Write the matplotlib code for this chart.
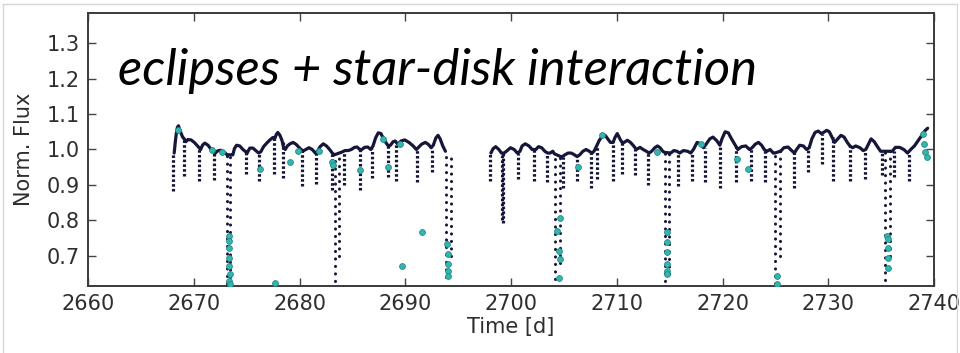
import numpy as np
import matplotlib
matplotlib.use("Agg")
import matplotlib.pyplot as plt
from matplotlib.lines import Line2D

# --- light curve: continuum (spot-modulated arches) -------------------------
arc_t = [
    2668.15, 2668.25, 2668.35, 2668.45, 2668.55, 2668.65, 2668.8, 2668.95, 2669.1,
    2669.25, 2669.45, 2669.75, 2670.05, 2670.3, 2670.5, 2670.65, 2670.85, 2671.05,
    2671.35, 2671.65, 2671.9, 2672.05, 2672.25, 2672.55, 2672.85, 2673.05, 2673.15,
    2673.55, 2673.7, 2673.85, 2674.05, 2674.35, 2674.65, 2674.9, 2675.05, 2675.3,
    2675.6, 2675.9, 2676.15, 2676.35, 2676.6, 2676.9, 2677.2, 2677.5, 2677.65,
    2677.8, 2677.95, 2678.15, 2678.35, 2678.5, 2678.65, 2678.85, 2679.1, 2679.4,
    2679.7, 2679.95, 2680.15, 2680.35, 2680.6, 2680.9, 2681.2, 2681.5, 2681.7,
    2681.95, 2682.25, 2682.55, 2682.85, 2683.1, 2683.3, 2683.75, 2683.95, 2684.3,
    2684.6, 2684.9, 2685.2, 2685.45, 2685.7, 2685.9, 2686.15, 2686.45, 2686.75,
    2686.95, 2687.2, 2687.45, 2687.7, 2687.95, 2688.2, 2688.4, 2688.6, 2688.85,
    2689.05, 2689.3, 2689.6, 2689.95, 2690.35, 2690.75, 2691.05, 2691.25, 2691.55,
    2691.9, 2692.2, 2692.45, 2692.65, 2692.9, 2693.1, 2693.3, 2693.55, 2693.8,
    2698.1, 2698.3, 2698.55, 2698.85, 2699.1, 2699.35, 2699.65, 2699.95, 2700.3,
    2700.6, 2700.85, 2701.05, 2701.35, 2701.7, 2702.0, 2702.35, 2702.6, 2702.9,
    2703.2, 2703.45, 2703.7, 2703.95, 2704.1, 2704.7, 2704.85, 2705.1, 2705.4,
    2705.7, 2706.0, 2706.25, 2706.5, 2706.8, 2707.1, 2707.4, 2707.65, 2707.85,
    2708.1, 2708.35, 2708.6, 2708.9, 2709.15, 2709.4, 2709.65, 2709.85, 2710.05,
    2710.3, 2710.5, 2710.7, 2711.0, 2711.3, 2711.6, 2711.85, 2712.2, 2712.5,
    2712.8, 2713.05, 2713.3, 2713.6, 2713.85, 2714.1, 2714.35, 2714.5, 2715.05,
    2715.1, 2715.4, 2715.7, 2715.95, 2716.3, 2716.7, 2717.0, 2717.25, 2717.6,
    2717.95, 2718.2, 2718.45, 2718.8, 2719.1, 2719.45, 2719.75, 2719.95, 2720.25,
    2720.55, 2720.85, 2721.15, 2721.45, 2721.8, 2722.2, 2722.55, 2722.8, 2723.1,
    2723.4, 2723.7, 2723.95, 2724.2, 2724.5, 2724.8, 2724.95, 2725.45, 2725.5,
    2725.8, 2726.2, 2726.5, 2726.8, 2727.0, 2727.3, 2727.65, 2727.95, 2728.2,
    2728.45, 2728.75, 2729.05, 2729.35, 2729.55, 2729.85, 2730.1, 2730.35, 2730.6,
    2730.9, 2731.2, 2731.5, 2731.8, 2732.05, 2732.3, 2732.6, 2733.0, 2733.3,
    2733.55, 2733.8, 2734.05, 2734.35, 2734.65, 2734.95, 2735.2, 2735.35, 2735.85,
    2736.05, 2736.35, 2736.75, 2737.15, 2737.5, 2737.8, 2738.15, 2738.5, 2738.85,
    2739.15, 2739.4,
]
arc_f = [
    0.990, 1.020, 1.045, 1.062, 1.067, 1.058, 1.046, 1.035, 1.030,
    1.022, 1.028, 1.027, 1.020, 1.012, 1.005, 1.000, 1.013, 1.018,
    1.012, 1.000, 0.994, 0.990, 0.996, 0.998, 0.993, 0.988, 0.985,
    0.985, 0.985, 1.003, 1.012, 1.010, 1.000, 0.994, 0.990, 1.004,
    1.004, 0.996, 0.990, 0.994, 1.008, 1.018, 1.027, 1.034, 1.030,
    1.042, 1.048, 1.040, 1.025, 1.005, 1.000, 1.010, 1.016, 1.020,
    1.014, 1.006, 1.000, 0.996, 1.000, 1.005, 1.000, 0.990, 0.995,
    1.008, 1.016, 1.010, 1.000, 0.990, 0.985, 0.990, 0.992, 0.997,
    0.997, 1.000, 1.006, 1.007, 1.000, 1.000, 1.006, 1.007, 1.000,
    1.010, 1.033, 1.047, 1.045, 1.030, 1.018, 1.010, 1.012, 1.022,
    1.024, 1.015, 1.024, 1.027, 1.020, 1.010, 1.000, 1.006, 1.015,
    1.020, 1.014, 1.005, 1.012, 1.033, 1.040, 1.030, 1.010, 0.995,
    0.990, 1.002, 1.008, 1.000, 0.990, 0.990, 0.997, 1.005, 1.000,
    0.990, 0.995, 1.010, 1.016, 1.010, 1.000, 1.000, 1.008, 1.005,
    0.995, 0.990, 0.990, 0.995, 0.988, 0.980, 0.980, 0.985, 0.990,
    0.990, 0.985, 0.980, 0.985, 0.995, 1.000, 0.995, 0.990, 0.995,
    1.010, 1.026, 1.036, 1.040, 1.030, 1.020, 1.020, 1.035, 1.045,
    1.030, 1.020, 1.020, 1.026, 1.020, 1.010, 1.000, 1.006, 1.000,
    0.995, 0.990, 0.995, 1.005, 1.010, 1.005, 0.995, 0.992, 0.990,
    0.990, 0.997, 0.995, 0.990, 0.997, 0.995, 0.990, 1.000, 1.020,
    1.016, 1.005, 1.015, 1.030, 1.035, 1.025, 1.012, 1.030, 1.050,
    1.047, 1.030, 1.015, 1.000, 1.008, 1.010, 1.000, 1.005, 1.015,
    1.020, 1.012, 1.000, 0.995, 1.000, 0.990, 0.990, 0.995, 0.995,
    1.005, 1.007, 0.998, 0.990, 1.000, 1.012, 1.010, 1.000, 1.005,
    1.030, 1.048, 1.052, 1.045, 1.048, 1.054, 1.050, 1.035, 1.020,
    1.030, 1.040, 1.035, 1.020, 1.010, 1.005, 1.010, 1.005, 0.997,
    1.000, 1.015, 1.030, 1.022, 1.008, 0.995, 0.995, 0.995, 0.995,
    0.995, 1.006, 1.006, 1.000, 0.990, 1.000, 1.010, 1.025, 1.040,
    1.053, 1.060,
]

# --- short dips (star-disk interaction), one column per dip -----------------
dip_t = [
    2668.05, 2669.1, 2670.5, 2671.9, 2674.9, 2676.2, 2677.6, 2678.45, 2680.2,
    2681.6, 2683.05, 2684.2, 2685.75, 2686.85, 2688.35, 2689.1, 2691.1, 2692.5,
    2698.02, 2699.15, 2699.25, 2700.7, 2702.2, 2703.4, 2704.9, 2706.2, 2707.6,
    2708.1, 2709.6, 2710.5, 2711.75, 2713.0, 2715.8, 2717.1, 2718.3, 2719.8,
    2721.3, 2722.7, 2724.0, 2726.8, 2728.05, 2729.4, 2730.45, 2732.1, 2733.45,
    2735.1, 2736.2, 2737.6,
]
dip_top = [
    0.990, 1.030, 1.005, 0.994, 0.994, 0.990, 1.030, 1.020, 1.000,
    0.990, 0.990, 0.996, 1.000, 1.000, 1.010, 1.020, 1.000, 1.005,
    0.990, 0.990, 0.990, 0.990, 1.000, 0.990, 0.980, 0.980, 0.990,
    1.010, 1.020, 1.020, 1.000, 0.990, 0.995, 0.990, 1.005, 1.012,
    1.015, 1.000, 1.000, 0.990, 1.000, 1.045, 1.035, 1.010, 0.997,
    0.995, 0.995, 0.990,
]
dip_bot = [
    0.884, 0.926, 0.912, 0.915, 0.930, 0.912, 0.930, 0.920, 0.898,
    0.903, 0.885, 0.900, 0.885, 0.920, 0.922, 0.912, 0.908, 0.936,
    0.910, 0.800, 0.794, 0.917, 0.910, 0.908, 0.890, 0.912, 0.890,
    0.917, 0.912, 0.930, 0.927, 0.900, 0.898, 0.912, 0.908, 0.890,
    0.908, 0.912, 0.908, 0.890, 0.936, 0.960, 0.912, 0.912, 0.917,
    0.927, 0.922, 0.912,
]

# --- eclipses: ingress and egress columns -----------------------------------
ecl_t = [2673.15, 2673.45, 2683.35, 2683.7, 2693.9, 2694.35, 2704.2, 2704.6,
         2714.6, 2714.95, 2725.0, 2725.4, 2735.4, 2735.8]
ecl_top = [0.985, 0.985, 0.985, 0.990, 0.995, 0.975, 0.988, 0.980,
           0.992, 0.990, 0.995, 0.995, 0.995, 0.995]
ecl_bot = [0.600, 0.640, 0.630, 0.700, 0.640, 0.700, 0.635, 0.680,
           0.630, 0.650, 0.600, 0.700, 0.632, 0.700]

# --- flagged points (cyan) --------------------------------------------------
flag_t = [
    2668.55, 2671.7, 2672.64, 2673.33, 2673.36, 2673.38, 2673.36, 2673.38, 2673.4,
    2673.38, 2673.4, 2676.27, 2677.68, 2679.1, 2679.9, 2681.8, 2683.1, 2683.15,
    2685.7, 2687.9, 2688.4, 2689.5, 2689.66, 2691.55, 2693.98, 2694.0, 2694.02,
    2694.02, 2694.0, 2704.6, 2704.32, 2704.58, 2704.6, 2704.55, 2706.36, 2708.57,
    2713.77, 2714.72, 2714.74, 2714.72, 2714.74, 2714.72, 2714.74, 2718.0,
    2721.33, 2722.44, 2725.12, 2725.15, 2735.6, 2735.62, 2735.62, 2735.64,
    2735.64, 2738.99, 2739.05, 2739.15, 2739.3,
]
flag_f = [
    1.054, 0.999, 0.993, 0.756, 0.742, 0.722, 0.694, 0.671, 0.649,
    0.629, 0.620, 0.946, 0.624, 0.964, 0.997, 0.997, 0.965, 0.955,
    0.941, 1.030, 0.950, 1.016, 0.670, 0.766, 0.733, 0.705, 0.676,
    0.657, 0.643, 0.808, 0.771, 0.714, 0.690, 0.638, 0.950, 1.040,
    0.993, 0.766, 0.738, 0.710, 0.676, 0.657, 0.648, 1.016,
    0.974, 0.945, 0.643, 0.620, 0.757, 0.747, 0.723, 0.695,
    0.667, 1.044, 1.016, 0.992, 0.978,
]

x_ticks = [2660, 2670, 2680, 2690, 2700, 2710, 2720, 2730, 2740]
y_ticks = [0.7, 0.8, 0.9, 1.0, 1.1, 1.2, 1.3]

DARK = "#16163a"
CYAN = "#35b5ad"
TXT = "#2e2e2e"

fig = plt.figure(figsize=(9.6, 3.53), dpi=100)
ax = fig.add_axes([88 / 960, 1 - 286 / 353, (934 - 88) / 960, (286 - 13) / 353])

# continuum, broken at the mid-campaign data gap
t = np.asarray(arc_t)
f = np.asarray(arc_f)
breaks = np.where(np.diff(t) > 2.0)[0] + 1
for seg_t, seg_f in zip(np.split(t, breaks), np.split(f, breaks)):
    ax.plot(seg_t, seg_f, color=DARK, lw=2.3, solid_capstyle="round",
            solid_joinstyle="round", zorder=3)

# short dips drawn as dotted columns of cadences
dips = ax.vlines(dip_t, dip_bot, dip_top, colors=DARK, linewidth=2.3,
                 linestyles=[(0, (0.8, 0.7))], zorder=3)
dips.set_capstyle("butt")

# eclipses: sparser cadences on the steep ingress/egress
ecl = ax.vlines(ecl_t, ecl_bot, ecl_top, colors=DARK, linewidth=2.2,
                linestyles=[(0, (0.05, 2.4))], zorder=3)
ecl.set_capstyle("round")

ax.plot(flag_t, flag_f, "o", ms=4.2, mfc=CYAN, mec="#1f8c88", mew=0.6,
        ls="none", zorder=4)

ax.set_xlim(2660, 2740)
ax.set_ylim(0.615, 1.385)
ax.set_xticks(x_ticks)
ax.set_yticks(y_ticks)
ax.set_yticklabels([f"{v:.1f}" for v in y_ticks])
ax.tick_params(direction="in", length=6, width=1.0, color="#444444",
               labelsize=15, labelcolor=TXT, top=True, right=True, pad=6)
for s in ax.spines.values():
    s.set_linewidth(1.4)
    s.set_color("#3a3a3a")

ax.set_xlabel("Time [d]", fontsize=15, color=TXT, labelpad=2)
ax.set_ylabel("Norm. Flux", fontsize=15, color=TXT, labelpad=9)

ax.text(0.0355, 0.735, "eclipses + star-disk interaction", transform=ax.transAxes,
        fontsize=36.5, style="italic", family="Lato", color="black",
        ha="left", va="baseline", zorder=5)

# thin outer frame around the figure
frame = "#d6d6d6"
fig.add_artist(Line2D([3 / 960, 3 / 960], [0, 1 - 4 / 353], color=frame, lw=1))
fig.add_artist(Line2D([3 / 960, 957 / 960], [1 - 4 / 353, 1 - 4 / 353], color=frame, lw=1))
fig.add_artist(Line2D([957 / 960, 957 / 960], [0, 1 - 4 / 353], color=frame, lw=0.8))

fig.savefig("out.png", dpi=100, facecolor="white")
